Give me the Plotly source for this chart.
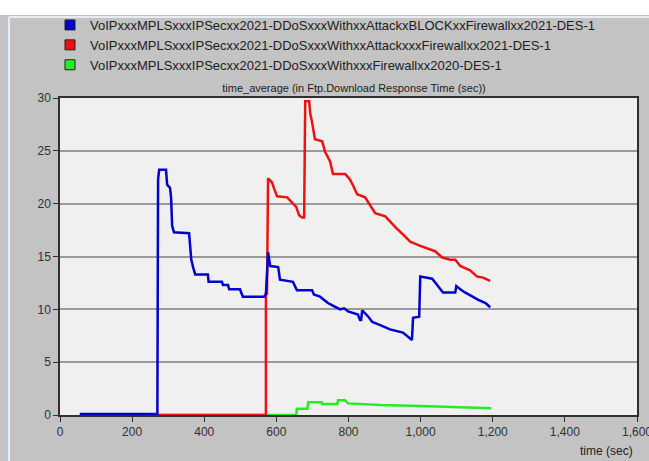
import plotly.graph_objects as go

# ---------------- data ----------------
series_names = [
    "VoIPxxxMPLSxxxIPSecxx2021-DDoSxxxWithxxAttackxBLOCKxxFirewallxx2021-DES-1",
    "VoIPxxxMPLSxxxIPSecxx2021-DDoSxxxWithxxAttackxxxFirewallxx2021-DES-1",
    "VoIPxxxMPLSxxxIPSecxx2021-DDoSxxxWithxxxFirewallxx2020-DES-1",
]
series_colors = ["#0000d0", "#ee1111", "#22ee22"]

blue_t = [55, 270, 272, 275, 294, 297, 305, 308, 311, 316, 358, 361, 364, 369, 375,
          410, 412, 449, 452, 466, 469, 499, 507, 566, 571, 577, 583, 605, 610, 646,
          657, 699, 704, 721, 743, 754, 777, 788, 799, 826, 832, 835, 838, 855, 866,
          888, 915, 951, 965, 976, 979, 996, 999, 1032, 1048, 1062, 1096, 1099, 1110,
          1123, 1160, 1180, 1193]
blue_y = [0.1, 0.1, 22.3, 23.2, 23.2, 21.8, 21.5, 20.6, 17.9, 17.3, 17.2, 16.0, 14.7, 14.0, 13.3,
          13.3, 12.6, 12.6, 12.3, 12.3, 11.9, 11.9, 11.2, 11.2, 11.4, 15.4, 14.1, 14.0, 12.8, 12.6,
          11.8, 11.8, 11.4, 11.2, 10.6, 10.4, 10.0, 10.1, 9.8, 9.5, 9.0, 9.0, 9.9, 9.3, 8.8,
          8.5, 8.1, 7.8, 7.4, 7.1, 9.2, 9.3, 13.1, 12.9, 12.2, 11.6, 11.6, 12.2, 11.9,
          11.6, 10.9, 10.6, 10.2]

red_t = [55, 571, 571, 574, 577, 588, 594, 602, 630, 644, 655, 663, 671, 677, 680, 691,
         694, 699, 707, 727, 735, 749, 757, 791, 804, 813, 824, 846, 860, 874, 902, 915,
         935, 951, 971, 999, 1021, 1040, 1060, 1082, 1096, 1110, 1137, 1157, 1173, 1193]
red_y = [0.0, 0.0, 11.5, 11.5, 22.4, 22.0, 21.4, 20.7, 20.6, 20.1, 19.7, 18.9, 18.7, 18.7, 29.7, 29.7,
         28.5, 27.7, 26.1, 25.9, 24.9, 24.0, 22.8, 22.8, 22.3, 21.7, 20.9, 20.6, 19.9, 19.1, 18.8, 18.3,
         17.6, 17.1, 16.4, 16.0, 15.7, 15.5, 14.9, 14.7, 14.7, 14.1, 13.7, 13.1, 13.0, 12.7]

green_t = [55, 655, 657, 686, 688, 725, 727, 769, 771, 790, 799, 888, 999, 1082, 1196]
green_y = [0.0, 0.0, 0.6, 0.6, 1.2, 1.2, 1.05, 1.05, 1.4, 1.4, 1.1, 0.95, 0.85, 0.75, 0.65]

x_ticks = [0, 200, 400, 600, 800, 1000, 1200, 1400, 1600]
y_ticks = [0, 5, 10, 15, 20, 25, 30]
chart_title = "time_average (in Ftp.Download Response Time (sec))"
x_title = "time (sec)"

# ---------------- layout helpers ----------------
W, H = 649, 461
L, R, T, B = 60, 12, 98, 46
PW, PH = W - L - R, H - T - B


def px_x(p):
    return (p - L) / PW


def px_y(p):
    return (H - B - p) / PH


fig = go.Figure()

data = [(green_t, green_y, 2), (red_t, red_y, 1), (blue_t, blue_y, 0)]
for t, y, i in data:
    fig.add_trace(go.Scatter(x=t, y=y, mode="lines", showlegend=False,
                             line=dict(color=series_colors[i], width=2.5),
                             hoverinfo="skip"))

# legend entries (square swatches), added green -> blue, shown reversed
for i in [2, 1, 0]:
    fig.add_trace(go.Scatter(x=[None], y=[None], mode="markers", name=series_names[i],
                             marker=dict(symbol="square", size=10, color=series_colors[i],
                                         line=dict(color="#202020", width=1))))

shapes = [
    # white strip at the top
    dict(type="rect", xref="paper", yref="paper", x0=px_x(0), x1=px_x(W), y0=px_y(15), y1=px_y(0),
         fillcolor="#ffffff", line=dict(width=0), layer="below"),
    # light panel border
    dict(type="line", xref="paper", yref="paper", x0=px_x(9), x1=px_x(W), y0=px_y(17), y1=px_y(17),
         line=dict(color="#e6ecf2", width=2), layer="below"),
    dict(type="line", xref="paper", yref="paper", x0=px_x(9), x1=px_x(9), y0=px_y(17), y1=px_y(H),
         line=dict(color="#e6ecf2", width=2), layer="below"),
]

fig.update_layout(
    width=W, height=H,
    margin=dict(l=L, r=R, t=T, b=B, pad=0, autoexpand=False),
    paper_bgcolor="#c3c3c3",
    plot_bgcolor="#f0f0f0",
    font=dict(family="Liberation Sans, Arial, sans-serif", size=12, color="#303030"),
    title=dict(text=chart_title, x=px_x(354), xref="paper", xanchor="center",
               y=1 - 88 / H, yref="container", yanchor="middle",
               font=dict(size=11, color="#202020")),
    showlegend=True,
    legend=dict(x=px_x(50), y=px_y(10), xanchor="left", yanchor="top",
                traceorder="reversed", bgcolor="rgba(0,0,0,0)",
                font=dict(size=13, color="#202020"), itemwidth=30,
                tracegroupgap=0),
    shapes=shapes,
    annotations=[dict(text=x_title, xref="paper", yref="paper", x=px_x(635), y=px_y(451),
                      xanchor="right", yanchor="middle", showarrow=False,
                      font=dict(size=12, color="#202020"))],
)

fig.update_xaxes(range=[0, 1600], tickvals=x_ticks, tickformat=",d",
                 showgrid=False, zeroline=False, ticklabeloverflow="allow", automargin=False,
                 showline=True, linecolor="#303030", linewidth=1.5, mirror=True,
                 ticks="outside", ticklen=5, tickcolor="#303030")
fig.update_yaxes(range=[0, 30], tickvals=y_ticks, automargin=False,
                 showgrid=True, gridcolor="#9a9a9a", gridwidth=1.5, zeroline=False,
                 showline=True, linecolor="#303030", linewidth=1.5, mirror=True,
                 ticks="outside", ticklen=5, tickcolor="#303030")

fig.write_html("out.html", config={"displayModeBar": False},
               post_script="document.body.style.margin='0';document.body.style.overflow='hidden';")
